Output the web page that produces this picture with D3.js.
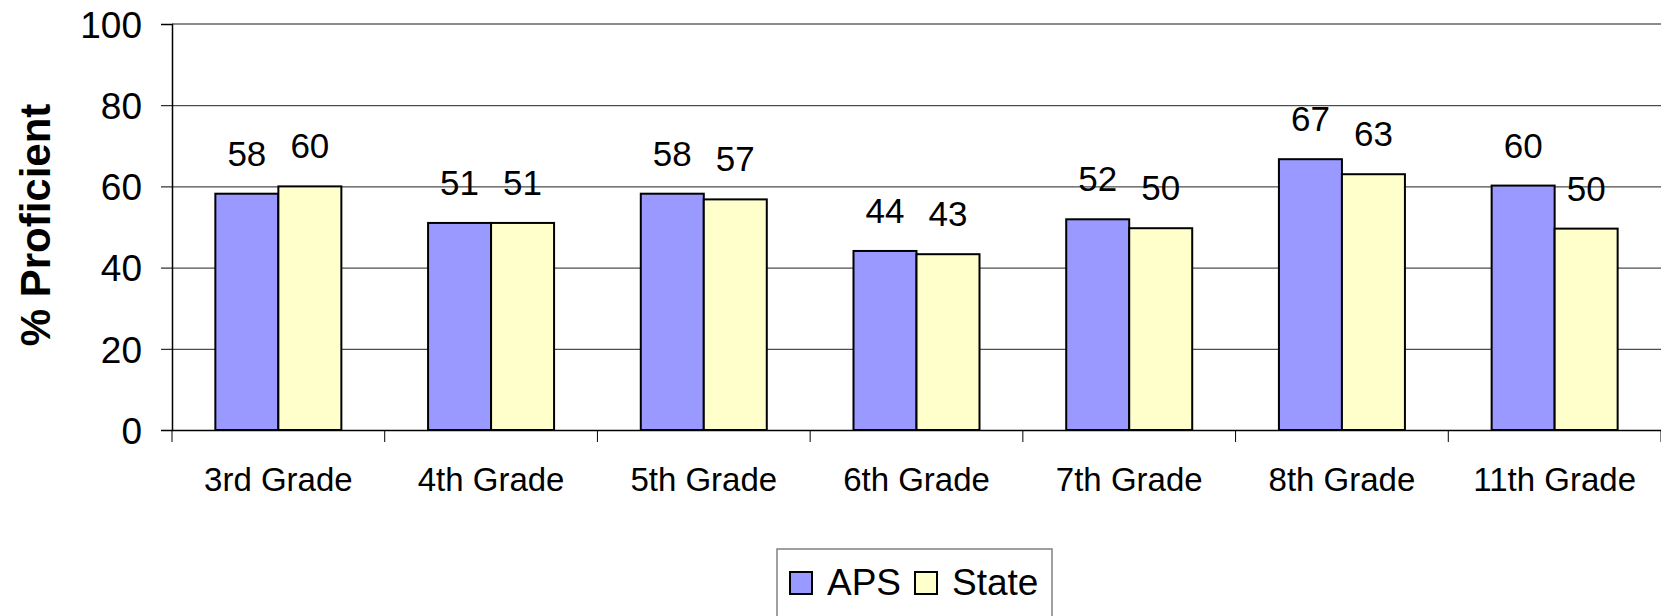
<!DOCTYPE html>
<html>
<head>
<meta charset="utf-8">
<script src="https://cdn.jsdelivr.net/npm/d3@7"></script>
<style>
  body { margin: 0; background: #fff; }
  text { font-family: "Liberation Sans", Arial, sans-serif; fill: #000; }
</style>
</head>
<body>
<div id="chart"></div>
<script>
// Data
//=================================
var grades = ["3rd Grade", "4th Grade", "5th Grade", "6th Grade", "7th Grade", "8th Grade", "11th Grade"];
var apsValues = [58.2, 51, 58.2, 44.1, 51.9, 66.7, 60.2];
var stateValues = [60, 51, 56.8, 43.3, 49.7, 63, 49.6];
var seriesNames = ["APS", "State"];
var seriesColors = ["#9999FF", "#FFFFCC"];
var yTicks = [0, 20, 40, 60, 80, 100];

//Canvas size and margins
var svgWidth = 1661;
var svgHeight = 616;

var margin = {
    top: 24,
    right: 0,
    bottom: 186,
    left: 172
};

var width = svgWidth - margin.left - margin.right;
var height = svgHeight - margin.top - margin.bottom;

var svg = d3.select("#chart")
    .append("svg")
    .attr("width", svgWidth)
    .attr("height", svgHeight);

var chartGroup = svg.append("g")
    .attr("transform", `translate(${margin.left}, ${margin.top})`);

// build rows from the arrays
var rows = grades.map(function(g, i) {
    return { grade: g, values: [apsValues[i], stateValues[i]] };
});

// Scales
// ==============================
var xScale = d3.scaleBand()
    .domain(grades)
    .range([0, width])
    .padding(0);

var barW = 63;
var xInner = d3.scaleBand()
    .domain(seriesNames)
    .range([(xScale.bandwidth() - 2 * barW) / 2, (xScale.bandwidth() + 2 * barW) / 2])
    .padding(0);

var yScale = d3.scaleLinear()
    .domain([0, 100])
    .range([height, 0]);

// gridlines
chartGroup.append("g")
    .attr("class", "grid")
    .call(d3.axisLeft(yScale).tickValues(yTicks.slice(1, -1)).tickSize(-width).tickFormat(""))
    .call(g => g.select(".domain").remove())
    .call(g => g.selectAll("line").attr("stroke", "#222").attr("stroke-width", 1));

// top border of plot area
chartGroup.append("line")
    .attr("x1", 0).attr("x2", width)
    .attr("y1", yScale(100)).attr("y2", yScale(100))
    .attr("stroke", "#8c8c8c").attr("stroke-width", 2);

// Y axis
var leftAxis = d3.axisLeft(yScale)
    .tickValues(yTicks)
    .tickSize(11)
    .tickPadding(19);

chartGroup.append("g")
    .call(leftAxis)
    .call(g => g.select(".domain").attr("stroke", "#000").attr("stroke-width", 1.5))
    .call(g => g.selectAll(".tick line").attr("stroke", "#000"))
    .call(g => g.selectAll("text")
        .style("font-size", "37px")
        .attr("font-family", null)
        .attr("dy", "0.36em"));

// X axis (labels centered, ticks at band boundaries)
var bottomAxis = d3.axisBottom(xScale)
    .tickSize(0)
    .tickPadding(38);

chartGroup.append("g")
    .attr("transform", `translate(0, ${height})`)
    .call(bottomAxis)
    .call(g => g.select(".domain").attr("stroke", "#000").attr("stroke-width", 1.5))
    .call(g => g.selectAll("text")
        .style("font-size", "33px")
        .attr("font-family", null));

var boundaries = grades.map(g => xScale(g)).concat([width]);
chartGroup.append("g")
    .selectAll("line")
    .data(boundaries)
    .enter()
    .append("line")
    .attr("x1", d => d).attr("x2", d => d)
    .attr("y1", height).attr("y2", height + 12)
    .attr("stroke", "#000");

// Bars
// ==============================
var groups = chartGroup.selectAll(".grade")
    .data(rows)
    .enter()
    .append("g")
    .attr("class", "grade")
    .attr("transform", d => `translate(${xScale(d.grade)}, 0)`);

groups.selectAll("rect")
    .data(d => d.values.map((v, i) => ({ key: seriesNames[i], value: v, color: seriesColors[i] })))
    .enter()
    .append("rect")
    .attr("x", d => xInner(d.key))
    .attr("y", d => yScale(d.value))
    .attr("width", xInner.bandwidth())
    .attr("height", d => height - yScale(d.value))
    .attr("fill", d => d.color)
    .attr("stroke", "#000")
    .attr("stroke-width", 2);

// value labels
groups.selectAll(".val")
    .data(d => d.values.map((v, i) => ({ key: seriesNames[i], value: v })))
    .enter()
    .append("text")
    .attr("class", "val")
    .attr("x", d => xInner(d.key) + xInner.bandwidth() / 2)
    .attr("y", d => yScale(d.value) - 28)
    .attr("text-anchor", "middle")
    .style("font-size", "35px")
    .text(d => Math.round(d.value));

// Y axis title
svg.append("text")
    .attr("transform", "rotate(-90)")
    .attr("x", -225)
    .attr("y", 50)
    .attr("text-anchor", "middle")
    .style("font-size", "42px")
    .style("font-weight", "bold")
    .text("% Proficient");

// Legend
// ==============================
var legend = svg.append("g");

legend.append("rect")
    .attr("x", 777)
    .attr("y", 549)
    .attr("width", 275)
    .attr("height", 80)
    .attr("fill", "#fff")
    .attr("stroke", "#808080")
    .attr("stroke-width", 1.5);

var legendX = [790, 915];
var legendItems = legend.selectAll(".item")
    .data(seriesNames)
    .enter()
    .append("g")
    .attr("class", "item")
    .attr("transform", (d, i) => `translate(${legendX[i]}, 572)`);

legendItems.append("rect")
    .attr("width", 22)
    .attr("height", 22)
    .attr("fill", (d, i) => seriesColors[i])
    .attr("stroke", "#000")
    .attr("stroke-width", 2);

legendItems.append("text")
    .attr("x", 37)
    .attr("y", 23)
    .style("font-size", "37px")
    .text(d => d);
</script>
</body>
</html>
